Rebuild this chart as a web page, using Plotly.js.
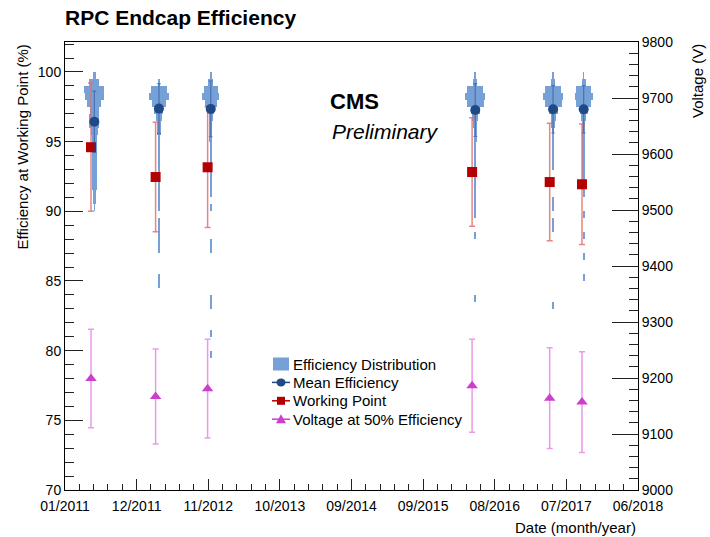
<!DOCTYPE html>
<html><head><meta charset="utf-8">
<script src="https://cdn.plot.ly/plotly-3.0.1.min.js"></script>
<style>html,body{margin:0;padding:0;background:#fff}#chart{width:710px;height:537px}</style>
</head><body><div id="chart"></div>
<script>
// ---------------- data ----------------
const distDates = ['2011-05-21','2012-03-24','2012-11-26','2016-05-10','2017-05-16','2017-10-09'];
const wpDates   = ['2011-05-05','2012-03-08','2012-11-11','2016-04-25','2017-04-30','2017-10-01'];
const meanEff    = [96.43, 97.37, 97.35, 97.27, 97.32, 97.32];
const meanEffErr = [2.2, 1.8, 2.0, 1.9, 1.7, 1.7];
const wpEff      = [94.6, 92.46, 93.16, 92.82, 92.1, 91.94];
const wpEffErr   = [4.6, 3.93, 4.33, 3.9, 4.22, 4.32];
const hv50       = [9199, 9167, 9181, 9186, 9164, 9157];
const hv50Err    = [88, 85, 88, 83, 90, 90];

// efficiency bins (%), top to bottom
const effBins = [99.75, 99.25, 98.75, 98.25, 97.75, 97.25, 96.75, 96.25, 95.75, 95.25,
                 94.75, 94.25, 93.75, 93.25, 92.75, 92.25, 91.75, 91.25, 90.75, 90.25,
                 89.75, 89.25, 88.75, 88.25, 87.75, 87.25, 86.75, 86.25, 85.75, 85.25,
                 84.75, 84.25, 83.75, 83.25, 82.75, 82.25, 81.75, 81.25, 80.75, 80.25,
                 79.75];
// relative number of chambers per bin (distribution profile), one per date
const dist1 = [1.2, 5, 10, 9.5, 7, 4.5, 5, 5, 3.5, 2.8,
               2.5, 2.5, 2.8, 2.5, 2.2, 2.8, 2.2, 1.8, 1.3, 0.8,
               0, 0, 0, 0, 0, 0, 0, 0, 0, 0,
               0, 0, 0, 0, 0, 0, 0, 0, 0, 0,
               0];
const dist2 = [0, 1.2, 8, 10, 7, 4.5, 3, 2.2, 1.6, 1.3,
               1.2, 1.2, 1.2, 1.2, 1.2, 1.2, 1.2, 1.2, 1, 1,
               0, 1, 0.8, 1.2, 1.2, 1.2, 0, 0, 0, 1,
               1, 0, 0, 0, 0, 0, 0, 0, 0, 0,
               0];
const dist3 = [1, 2.5, 7, 8.5, 6, 3.5, 2, 1.6, 1.5, 1.3,
               1.2, 1.2, 1.2, 1.2, 1.2, 1.2, 1.2, 1.2, 0, 1,
               0, 0, 0, 0, 1, 1, 0, 0, 0, 0,
               0, 0, 1, 1, 0, 0, 0, 1, 0, 0,
               1];
const dist4 = [0.8, 2, 8, 10, 8.5, 4.5, 3, 2.2, 1.6, 1.3,
               1.2, 1.2, 1.2, 1.2, 1.2, 1.2, 1.2, 1.2, 1.2, 1.2,
               1, 0, 0, 1, 0, 0, 0, 0, 0, 0,
               0, 0, 1, 0, 0, 0, 0, 0, 0, 0,
               0];
const dist5 = [0.8, 2, 8, 10, 8.5, 4.5, 2.5, 1.8, 1.4, 1.3,
               1.3, 1.3, 1.3, 1.3, 0, 0, 0, 0, 1, 1,
               0, 1, 1, 0, 0, 0, 0, 0, 0, 0,
               0, 0, 0, 1, 0, 0, 0, 0, 0, 0,
               0];
const dist6 = [0.8, 2, 7.5, 9, 7.5, 4, 2.5, 1.8, 1.4, 1.3,
               1.3, 1.3, 1.3, 1.3, 1.3, 1.3, 1.3, 1, 0, 0,
               1, 0, 0, 1, 0, 0, 1, 0, 0, 1,
               0, 0, 0, 0, 0, 0, 0, 0, 0, 0,
               0];
const distributions = [dist1, dist2, dist3, dist4, dist5, dist6];

const tickLabels = ['01/2011','12/2011','11/2012','10/2013','09/2014','09/2015','08/2016','07/2017','06/2018'];
const axisStart = '2011-01-01';
const axisEnd   = '2018-06-25';
const legendLabels = ['Efficiency Distribution', 'Mean Efficiency', 'Working Point', 'Voltage at 50% Efficiency'];

// ---------------- colours ----------------
const C_DIST = 'rgba(98,148,208,0.88)';
const C_MEAN = '#1f4a85';
const C_WP = '#b30000';
const C_WP_ERR = 'rgba(228,110,110,0.85)';
const C_HV = '#cc3fcc';
const C_HV_ERR = 'rgba(232,150,232,0.95)';

// ---------------- helpers ----------------
const DAY = 86400000;
const toDays = d => (Date.parse(d) - Date.parse(axisStart)) / DAY;
const span = toDays(axisEnd);
const tickVals = tickLabels.map((_, i) => i * span / (tickLabels.length - 1));
const HALF_W = 4.8;   // days per unit of distribution half-width (style)
const BIN_H = 0.5;

// build distribution bars
const bx = [], bbase = [], by = [];
distributions.forEach((dist, k) => {
  const c = toDays(distDates[k]);
  dist.forEach((v, i) => {
    if (v > 0) {
      bx.push(2 * v * HALF_W);
      bbase.push(c - v * HALF_W);
      by.push(effBins[i]);
    }
  });
});

const traces = [
  {
    type: 'bar', orientation: 'h', name: legendLabels[0],
    x: bx, base: bbase, y: by, width: BIN_H,
    marker: {color: C_DIST, line: {width: 0}},
    xaxis: 'x', yaxis: 'y', hoverinfo: 'skip'
  },
  {
    type: 'scatter', mode: 'markers', name: legendLabels[2],
    x: wpDates.map(toDays), y: wpEff,
    error_y: {type: 'data', array: wpEffErr, color: C_WP_ERR, thickness: 1.5, width: 3},
    marker: {symbol: 'square', size: 10, color: C_WP},
    xaxis: 'x', yaxis: 'y'
  },
  {
    type: 'scatter', mode: 'markers', name: legendLabels[1],
    x: distDates.map(toDays), y: meanEff,
    error_y: {type: 'data', array: meanEffErr, color: 'rgba(30,70,140,0.5)', thickness: 1.2, width: 2},
    marker: {symbol: 'circle', size: 10, color: C_MEAN},
    xaxis: 'x', yaxis: 'y'
  },
  {
    type: 'scatter', mode: 'markers', name: legendLabels[3],
    x: wpDates.map(toDays), y: hv50,
    error_y: {type: 'data', array: hv50Err, color: C_HV_ERR, thickness: 1.5, width: 3},
    marker: {symbol: 'triangle-up', size: 10, color: C_HV},
    xaxis: 'x', yaxis: 'y2'
  }
];

// ---------------- legend (drawn as shapes + annotations) ----------------
const L = 65, R = 638, T = 42, B = 490;
const px = x => (x - L) / (R - L);
const py = y => (B - y) / (B - T);
const legRow0 = 364, legStep = 18.4, legSymX = 281, legTextX = 291;
const shapes = [];
const legAnn = [];
legendLabels.forEach((lab, i) => {
  const yc = legRow0 + i * legStep;
  legAnn.push({text: lab, xref: 'paper', yref: 'paper', x: px(legTextX), xanchor: 'left',
               y: py(yc), yanchor: 'middle', showarrow: false, font: {size: 15}});
});
// row 0: filled box
shapes.push({type: 'rect', xref: 'paper', yref: 'paper', x0: px(273), x1: px(289),
             y0: py(legRow0 + 6.5), y1: py(legRow0 - 6.5), fillcolor: C_DIST, line: {width: 0}});
// rows 1-3: line + marker
[[C_MEAN, 'circle'], [C_WP, 'square'], [C_HV, 'triangle']].forEach(([col, sym], j) => {
  const yc = legRow0 + (j + 1) * legStep;
  shapes.push({type: 'line', xref: 'paper', yref: 'paper', x0: px(272), x1: px(290),
               y0: py(yc), y1: py(yc), line: {color: col, width: 1.5}});
  if (sym === 'circle') {
    shapes.push({type: 'circle', xref: 'paper', yref: 'paper', x0: px(legSymX - 4.5), x1: px(legSymX + 4.5),
                 y0: py(yc + 4), y1: py(yc - 4), fillcolor: col, line: {width: 0}});
  } else if (sym === 'square') {
    shapes.push({type: 'rect', xref: 'paper', yref: 'paper', x0: px(legSymX - 4), x1: px(legSymX + 4),
                 y0: py(yc + 4), y1: py(yc - 4), fillcolor: col, line: {width: 0}});
  } else {
    const p = `M ${px(legSymX - 5)} ${py(yc + 4)} L ${px(legSymX + 5)} ${py(yc + 4)} L ${px(legSymX)} ${py(yc - 5)} Z`;
    shapes.push({type: 'path', xref: 'paper', yref: 'paper', path: p, fillcolor: col, line: {width: 0}});
  }
});

const F = 'Liberation Sans, Arial, Helvetica, sans-serif';
const layout = {
  width: 710, height: 537,
  margin: {l: 65, r: 72, t: 42, b: 47, pad: 0},
  paper_bgcolor: '#fff', plot_bgcolor: '#fff',
  font: {family: F, size: 14, color: '#000'},
  title: {text: '<b>RPC Endcap Efficiency</b>', xref: 'container', yref: 'container',
          x: 65/710, xanchor: 'left', y: 1 - 18/537, yanchor: 'middle', font: {size: 21, family: F}},
  showlegend: false,
  bargap: 0, barmode: 'overlay',
  xaxis: {range: [0, span], tickmode: 'array', tickvals: tickVals, ticktext: tickLabels,
          ticks: 'inside', ticklen: 11, tickcolor: '#222', tickwidth: 1, ticklabelstandoff: 3,
          minor: {tickmode: 'linear', tick0: 0, dtick: span / 40, ticks: 'inside', ticklen: 6, tickcolor: '#222'},
          showline: true, mirror: true, linecolor: '#000', linewidth: 1,
          showgrid: false, zeroline: false, tickfont: {size: 14}},
  yaxis: {range: [70, 102.15], tickmode: 'linear', tick0: 70, dtick: 5,
          ticks: 'inside', ticklen: 18, tickcolor: '#222', tickwidth: 1,
          minor: {tickmode: 'linear', tick0: 70, dtick: 1, ticks: 'inside', ticklen: 9, tickcolor: '#222'},
          showline: true, linecolor: '#000', linewidth: 1, showgrid: false, zeroline: false,
          tickfont: {size: 14}},
  yaxis2: {overlaying: 'y', side: 'right', range: [9000, 9800], tickmode: 'linear', tick0: 9000, dtick: 100,
           tickformat: 'd',
           ticks: 'inside', ticklen: 26, tickcolor: '#222', tickwidth: 1,
           minor: {tickmode: 'linear', tick0: 9000, dtick: 20, ticks: 'inside', ticklen: 9, tickcolor: '#222'},
           showline: true, linecolor: '#000', linewidth: 1, showgrid: false, zeroline: false,
           tickfont: {size: 14}},
  shapes: shapes,
  annotations: [
    {text: 'Efficiency at Working Point (%)', textangle: -90, xref: 'paper', yref: 'paper',
     x: px(22), xanchor: 'center', y: py(43), yanchor: 'top', showarrow: false,
     font: {size: 15, family: F}},
    {text: 'Voltage (V)', textangle: -90, xref: 'paper', yref: 'paper',
     x: px(697), xanchor: 'center', y: py(42), yanchor: 'top', showarrow: false,
     font: {size: 15, family: F}},
    {text: 'Date (month/year)', xref: 'paper', yref: 'paper', x: 1, xanchor: 'right',
     y: py(527), yanchor: 'middle', showarrow: false, font: {size: 15, family: F}},
    {text: '<b>CMS</b>', xref: 'paper', yref: 'paper', x: px(328), xanchor: 'left',
     y: py(102), yanchor: 'middle', showarrow: false, font: {size: 22, family: F}},
    {text: '<i>Preliminary</i>', xref: 'paper', yref: 'paper', x: px(330), xanchor: 'left',
     y: py(131), yanchor: 'middle', showarrow: false, font: {size: 21, family: F}}
  ].concat(legAnn)
};

Plotly.newPlot('chart', traces, layout, {displayModeBar: false, staticPlot: true});
</script>
</body></html>
